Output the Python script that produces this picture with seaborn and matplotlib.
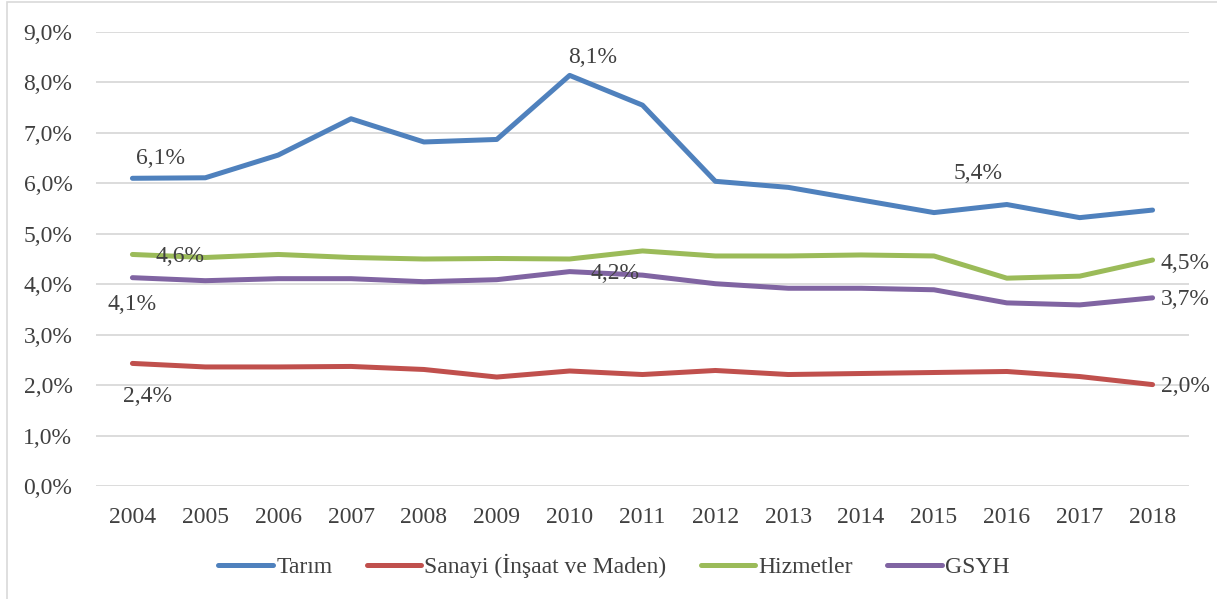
import numpy as np
import pandas as pd
import matplotlib
matplotlib.use("Agg")
import matplotlib.pyplot as plt
import seaborn as sns
from matplotlib.patches import Rectangle

years = [str(y) for y in range(2004, 2019)]
tarim = [6.10, 6.11, 6.56, 7.28, 6.82, 6.87, 8.14, 7.55, 6.04, 5.92, 5.67, 5.42, 5.58, 5.32, 5.47]
sanayi = [2.43, 2.36, 2.36, 2.37, 2.31, 2.16, 2.28, 2.21, 2.29, 2.21, 2.23, 2.25, 2.27, 2.17, 2.01]
hizmetler = [4.59, 4.53, 4.59, 4.53, 4.50, 4.51, 4.50, 4.66, 4.56, 4.56, 4.58, 4.56, 4.12, 4.16, 4.48]
gsyh = [4.13, 4.07, 4.11, 4.11, 4.05, 4.09, 4.25, 4.18, 4.01, 3.92, 3.92, 3.89, 3.63, 3.59, 3.73]

series_names = ["Tarım", "Sanayi (İnşaat ve Maden)", "Hizmetler", "GSYH"]
palette = ["#4F81BD", "#C0504D", "#9BBB59", "#8064A2"]

# data labels: (series, year index, dx px, dy px (up), ha)
labels = [
    ("Tarım", 0, 28, 20, "center"),
    ("Tarım", 6, 23, 18, "center"),
    ("Tarım", 11, 44, 39, "center"),
    ("Hizmetler", 0, 48, -2, "center"),
    ("GSYH", 0, 0, -27, "center"),
    ("GSYH", 6, 45, -2, "center"),
    ("Sanayi (İnşaat ve Maden)", 0, 15, -33, "center"),
    ("Hizmetler", 14, 8, -3, "left"),
    ("GSYH", 14, 8, -2, "left"),
    ("Sanayi (İnşaat ve Maden)", 14, 8, -2, "left"),
]

df = pd.DataFrame({"Yıl": years * 4,
                   "Seri": np.repeat(series_names, len(years)),
                   "Değer": tarim + sanayi + hizmetler + gsyh})
values = dict(zip(series_names, [tarim, sanayi, hizmetler, gsyh]))

sns.set_style("white")
plt.rcParams["font.family"] = ["Liberation Serif", "DejaVu Serif"]
text_color = "#404040"
fs = 17

fig = plt.figure(figsize=(12.17, 5.99), dpi=100)
W, H = 1217, 599
ax = fig.add_axes([96 / W, 1 - 486 / H, (1189 - 96) / W, (486 - 32) / H])

# outer frame (only left and top edges visible)
fig.patches.append(Rectangle((7 / W, -0.1), 1.2, 1.1 - 2 / H, transform=fig.transFigure,
                             fill=False, edgecolor="#d9d9d9", linewidth=1.2))

sns.lineplot(data=df, x="Yıl", y="Değer", hue="Seri", palette=palette,
             linewidth=3.6, ax=ax, sort=False)
for line in ax.lines:
    line.set_solid_capstyle("round")

ax.set_ylim(0, 9)
ax.set_xlim(-0.5, len(years) - 0.5)
ax.set_yticks(np.arange(0, 9.1, 1))
ax.set_yticklabels([f"{v:.1f}%".replace(".", ",") for v in np.arange(0, 9.1, 1)])
ax.yaxis.grid(True, color="#d9d9d9", linewidth=1.3)
ax.set_axisbelow(True)
for s in ax.spines.values():
    s.set_visible(False)
ax.tick_params(axis="both", length=0, labelsize=fs, colors=text_color)
ax.tick_params(axis="x", pad=15)
ax.tick_params(axis="y", pad=17)
ax.set_xlabel("")
ax.set_ylabel("")

for name, i, dx, dy, ha in labels:
    v = values[name][i]
    ax.annotate(f"{v:.1f}%".replace(".", ","), (i, v), xytext=(dx * 0.72, dy * 0.72),
                textcoords="offset points", ha=ha, va="center",
                fontsize=fs, color=text_color)

handles, lbls = ax.get_legend_handles_labels()
for h in handles:
    h.set_solid_capstyle("round")
fig.legend(handles, lbls, loc="center", bbox_to_anchor=(614 / W, 1 - 566 / H), ncol=4,
           frameon=False, fontsize=fs, handlelength=2.3, handletextpad=0.15,
           columnspacing=1.45, labelcolor=text_color)
ax.get_legend().remove()

fig.savefig("out.png", dpi=100)
